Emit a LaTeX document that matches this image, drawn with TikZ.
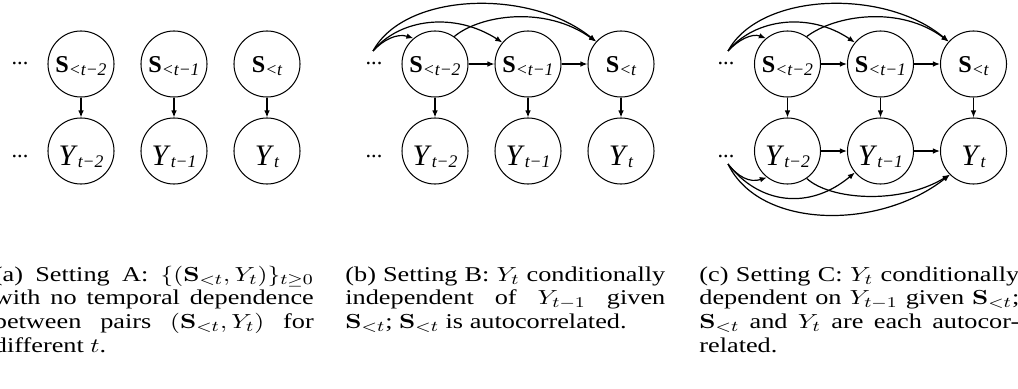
\documentclass[tikz,border=0pt]{standalone}
\usepackage[no-math]{fontspec}
\usepackage{graphicx}
\setmainfont{Liberation Serif}
\usetikzlibrary{arrows.meta}
\hbadness=10000 \hfuzz=20pt
\newcommand{\subsz}{\fontsize{9.5}{9.5}\selectfont}
\newcommand{\Slab}[1]{\raisebox{-4.4pt}{\fontsize{13}{13}\selectfont\textbf{S}\raisebox{-1.8pt}{\subsz\itshape #1}}}
\newcommand{\Ylab}[1]{\raisebox{-8pt}{\fontsize{16}{16}\selectfont\textit{Y}\raisebox{-1pt}{\subsz\itshape #1}}}
\newcommand{\capbox}[1]{\scalebox{1.25}[1]{\parbox[t]{137.6pt}{\fontsize{11.3}{12.75}\selectfont #1}}}
\begin{document}
\begin{tikzpicture}[x=0.5376pt, y=-0.5376pt,
  var/.style={circle, draw, line width=0.55pt, minimum size=35.5pt, inner sep=0pt, text height=2pt, text depth=2pt},
  arr/.style={-{Latex[length=3.8pt,width=3pt]}, line width=0.65pt},
  dotsn/.style={font=\fontsize{12}{12}\selectfont, anchor=base, inner sep=0pt},
  captxt/.style={anchor=base west, inner sep=0pt}]
\useasboundingbox (0,0) rectangle (1018,388);
% nodes
\foreach \p/\ox/\dx in {a/81/20, b/435/374, c/787.5/726} {
  \node[var] (\p S0) at (\ox,64) {\Slab{<t−2}};
  \node[var] (\p S1) at ({\ox+93},64) {\Slab{<t−1}};
  \node[var] (\p S2) at ({\ox+186},64) {\Slab{<t}};
  \node[var] (\p Y0) at (\ox,151) {\Ylab{t−2}};
  \node[var] (\p Y1) at ({\ox+93},151) {\Ylab{t−1}};
  \node[var] (\p Y2) at ({\ox+186},151) {\Ylab{t}};
  \node[dotsn] (\p dS) at (\dx,64) {...};
  \node[dotsn] (\p dY) at (\dx,157) {...};
  \draw[arr] (\p S0) -- (\p Y0);
  \draw[arr] (\p S1) -- (\p Y1);
  \draw[arr] (\p S2) -- (\p Y2);
}
% autocorrelation of S in (b) and (c)
\foreach \p/\ox in {b/0, c/355} {
  \coordinate (\p st) at ({\ox+373},51);
  \draw[arr] (\p S0) -- (\p S1);
  \draw[arr] (\p S1) -- (\p S2);
  \draw[arr] (\p st) .. controls ({\ox+383},40) and ({\ox+397},33) .. (\p S0.130);
  \draw[arr] (\p st) .. controls ({\ox+400},18) and ({\ox+455},12) .. (\p S1.140);
  \draw[arr] (\p st) .. controls ({\ox+405},-8) and ({\ox+530},-12) .. (\p S2.138);
  \draw[arr] (\p S0.55) .. controls ({\ox+480},15) and ({\ox+545},5) .. (\p S2.138);
}
% autocorrelation of Y in (c)
\coordinate (cyt) at (728,164);
\draw[arr] (cY0) -- (cY1);
\draw[arr] (cY1) -- (cY2);
\draw[arr] (cyt) .. controls (738,177) and (750,183) .. (cY0.232);
\draw[arr] (cyt) .. controls (760,205) and (810,210) .. (cY1.220);
\draw[arr] (cyt) .. controls (760,230) and (880,230) .. (cY2.225);
\draw[arr] (cY0.305) .. controls (830,200) and (900,205) .. (cY2.225);
% captions
\node[captxt] (capa) at (-6.5,281) {\capbox{(a) Setting A: $\{(\mathbf{S}_{<t},Y_t)\}_{t\geq0}$\linebreak with no temporal dependence\linebreak between pairs $(\mathbf{S}_{<t},Y_t)$ for\linebreak different~$t$.}};
\node[captxt] (capb) at (345,281) {\capbox{(b) Setting B: $Y_t$ conditionally\linebreak independent of $Y_{t-1}$ given\linebreak $\mathbf{S}_{<t}$; $\mathbf{S}_{<t}$ is autocorrelated.}};
\node[captxt] (capc) at (699,281) {\capbox{(c) Setting C: $Y_t$ conditionally\linebreak dependent on $Y_{t-1}$ given $\mathbf{S}_{<t}$;\linebreak $\mathbf{S}_{<t}$ and $Y_t$ are each autocor-\linebreak related.}};
\end{tikzpicture}
\end{document}
